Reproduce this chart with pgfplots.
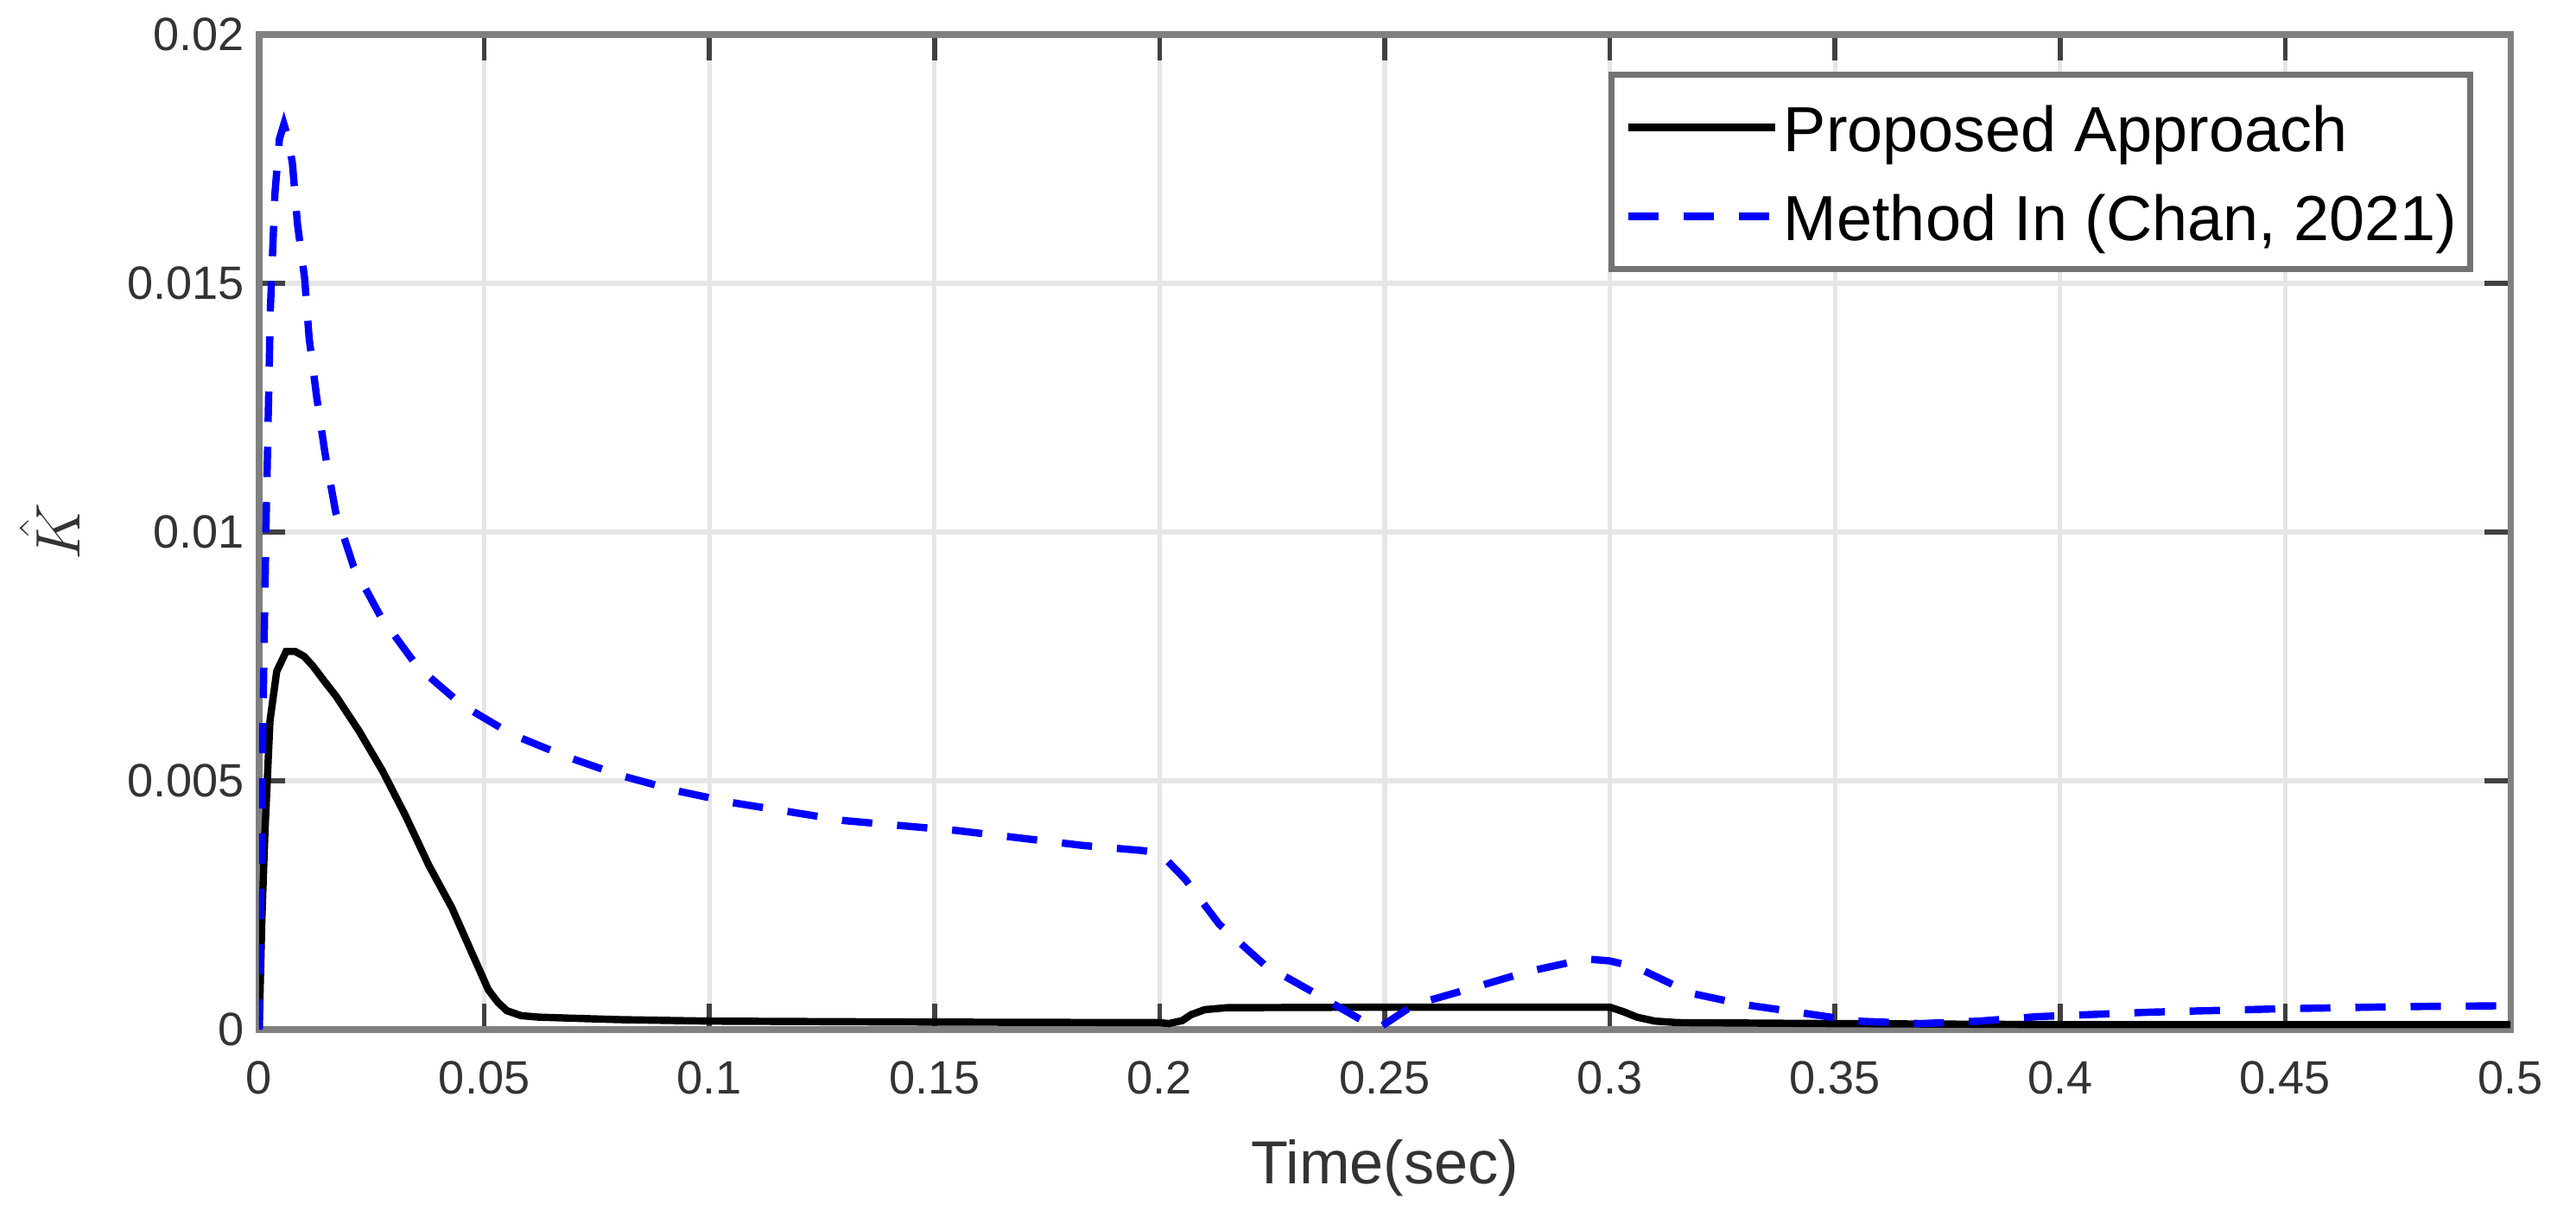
\documentclass[border=0pt]{standalone}
\usepackage{fontspec}
\setmainfont{Liberation Sans}
\usepackage{pgfplots}
\pgfplotsset{compat=1.18}

\begin{document}
\begin{tikzpicture}
  \begin{axis}[
    scale only axis,
    width=26.06cm,
    height=11.52cm,
    xmin=0, xmax=0.5,
    ymin=0, ymax=0.02,
    xtick={0,0.05,...,0.5},
    ytick={0,0.005,0.01,0.015,0.02},
    scaled x ticks=false,
    scaled y ticks=false,
    /pgf/number format/assume math mode=true,
    xticklabel style={/pgf/number format/fixed, /pgf/number format/precision=2, yshift=-0.24cm},
    yticklabel style={/pgf/number format/fixed, /pgf/number format/precision=3, xshift=-0.05cm},
    tick label style={font=\fontsize{15.4}{18}\selectfont, text=black!80},
    tick align=inside,
    major tick length=0.3cm,
    tick style={draw=black!75, line width=1.6pt},
    axis line style={draw=black!50, line width=2pt},
    grid=major,
    grid style={draw=black!10, line width=1.5pt},
    xlabel={Time(sec)},
    xlabel style={at={(axis description cs:0.5,0)}, anchor=north, inner sep=0pt,
      yshift=-1.27cm, font=\fontsize{20}{24}\selectfont, text=black!80},
    ylabel={$\hat{K}$},
    ylabel style={at={(axis description cs:-0.093,0.5)}, anchor=center,
      font=\fontsize{22}{26}\selectfont, text=black!80},
    legend cell align=left,
    legend image code/.code={\draw[#1] (0cm,0cm) -- (1.7cm,0cm);},
    legend style={
      at={(1,1)}, anchor=north east, xshift=-0.43cm, yshift=-0.43cm,
      draw=black!55, line width=2pt,
      inner xsep=0.15cm, inner ysep=0.285cm,
      column sep=0.06cm, row sep=0.38cm,
      font=\fontsize{21}{25}\selectfont,
      nodes={inner sep=0pt, text height=0.6cm, text depth=0.05cm},
    },
  ]
    % Proposed Approach
    \addplot[black, line width=2.4pt] coordinates {
      (0,0) (0.0006,0.0022) (0.0013,0.0040) (0.0024,0.0062) (0.0039,0.0072)
      (0.0060,0.0076) (0.0080,0.0076) (0.0100,0.0075) (0.0120,0.0073)
      (0.0145,0.0070) (0.0171,0.0067) (0.0222,0.0060) (0.0274,0.0052)
      (0.0325,0.0043) (0.0377,0.0033) (0.0428,0.00245) (0.0472,0.00155)
      (0.0509,0.0008) (0.0530,0.00055) (0.0550,0.00038) (0.0582,0.00028)
      (0.062,0.00025) (0.069,0.00023) (0.08,0.0002) (0.1,0.00017)
      (0.15,0.00015) (0.2,0.00014) (0.202,0.00012) (0.205,0.00018)
      (0.207,0.0003) (0.210,0.0004) (0.215,0.00044) (0.25,0.00045)
      (0.30,0.00045) (0.303,0.00036) (0.306,0.00025) (0.310,0.00017)
      (0.315,0.00014) (0.35,0.00012) (0.4,0.0001) (0.5,0.0001)
    };
    \addlegendentry{Proposed Approach}

    % Method In (Chan, 2021)
    \addplot[blue, line width=2.4pt, dash pattern=on 10pt off 8.2pt] coordinates {
      (0,0) (0.0004,0.003) (0.0008,0.006) (0.0015,0.0100) (0.0025,0.0145)
      (0.0035,0.0168) (0.0045,0.0179) (0.0055,0.0182) (0.0065,0.0179)
      (0.0074,0.0174) (0.0085,0.0162) (0.0101,0.0151) (0.0111,0.0139)
      (0.0128,0.0127) (0.0146,0.0116) (0.0170,0.0104) (0.0210,0.0093)
      (0.027,0.0083) (0.0351,0.0073) (0.045,0.00653) (0.056,0.00594)
      (0.0681,0.00549) (0.0802,0.00511) (0.0927,0.0048) (0.1052,0.00456)
      (0.13,0.0042) (0.155,0.0040) (0.183,0.0037) (0.196,0.0036)
      (0.2,0.00355) (0.2057,0.00302) (0.2132,0.00212) (0.2233,0.0013)
      (0.2345,0.00073) (0.2462,0.00012) (0.249,0.00005) (0.2565,0.0005)
      (0.270,0.00085) (0.282,0.00117) (0.2947,0.00142) (0.300,0.00138)
      (0.306,0.00125) (0.318,0.00073) (0.330,0.0005) (0.343,0.00033)
      (0.355,0.00017) (0.369,0.00012) (0.382,0.00017) (0.395,0.00026)
      (0.42,0.00035) (0.45,0.00042) (0.475,0.00046) (0.5,0.00048)
    };
    \addlegendentry{Method In (Chan, 2021)\hspace{0.65cm}}
  \end{axis}
  \pgfresetboundingbox
  \path[use as bounding box] (-3cm,-2.16cm) rectangle (26.82cm,11.92cm);
\end{tikzpicture}
\end{document}
